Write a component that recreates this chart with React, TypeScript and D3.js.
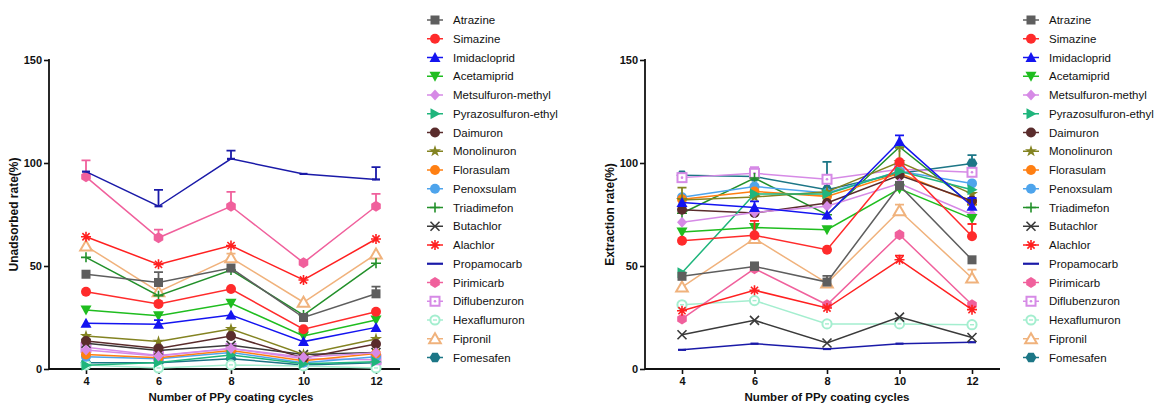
import React, { useEffect, useRef } from "react";
import * as d3 from "d3";

const cycles = [4, 6, 8, 10, 12];
const yTicks = [0, 50, 100, 150];

const names = [
  "Atrazine", "Simazine", "Imidacloprid", "Acetamiprid", "Metsulfuron-methyl",
  "Pyrazosulfuron-ethyl", "Daimuron", "Monolinuron", "Florasulam", "Penoxsulam",
  "Triadimefon", "Butachlor", "Alachlor", "Propamocarb", "Pirimicarb",
  "Diflubenzuron", "Hexaflumuron", "Fipronil", "Fomesafen",
];
const colors = [
  "#5e5e5e", "#ff2b2b", "#1414f0", "#1fbd1f", "#d68ae6",
  "#1fb57c", "#5a2c2c", "#838321", "#ff7f12", "#4ea4ec",
  "#22902a", "#3a3a3a", "#ff2020", "#1a1aa8", "#f0609c",
  "#d68ae6", "#a4eecf", "#f0b27c", "#1c7686",
];
const markers = [
  "square", "circle", "triUp", "triDown", "diamond",
  "triRight", "circle", "star", "circle", "circle",
  "plus", "cross", "asterisk", "none", "hexV",
  "openSquare", "openCircle", "openTri", "hexH",
];

// Unadsorbed rate (%)
const unAtrazine = [46, 42, 49, 25, 36.5];
const unSimazine = [37.5, 31.6, 38.8, 19.3, 27.8];
const unImidacloprid = [22.2, 21.7, 26.2, 13.3, 20.2];
const unAcetamiprid = [28.6, 25.9, 31.9, 16, 23.8];
const unMetsulfuron = [9.2, 6.3, 10, 5.7, 7.9];
const unPyrazosulfuron = [1.8, 3.2, 6.8, 2.5, 3.5];
const unDaimuron = [13.6, 10, 16, 5.3, 12.1];
const unMonolinuron = [16, 13.3, 19.4, 7.1, 14.6];
const unFlorasulam = [7, 5.5, 9, 4, 7.5];
const unPenoxsulam = [6, 5, 8, 3, 6];
const unTriadimefon = [54.2, 35.6, 48, 26.2, 51.3];
const unButachlor = [12.5, 9, 11.5, 7, 8];
const unAlachlor = [64.2, 50.8, 59.9, 43.2, 63.1];
const unPropamocarb = [95.8, 79, 102, 94.7, 92];
const unPirimicarb = [93.3, 63.7, 79, 51.6, 79];
const unDiflubenzuron = [10.5, 6.5, 10, 5, 4.5];
const unHexaflumuron = [2, 0.5, 2, 1.5, 0.5];
const unFipronil = [59.7, 37.5, 54, 32.4, 55.8];
const unFomesafen = [3, 3, 5, 2, 3];

// upper error bars, unadsorbed
const unErrAtrazine = [0, 5, 0, 0, 3.5];
const unErrImidacloprid = [0, 2, 0, 0, 0];
const unErrFipronil = [0, 0, 2, 0, 0];
const unErrPropamocarb = [0, 8, 4, 0, 6];
const unErrPirimicarb = [8, 4, 7, 0, 6];

// Extraction rate (%)
const exAtrazine = [45, 49.8, 42.2, 89.1, 53];
const exSimazine = [62.3, 64.9, 57.9, 100.4, 64.4];
const exImidacloprid = [80.8, 78.4, 74.8, 110.4, 79];
const exAcetamiprid = [66.5, 68.7, 67.6, 87.5, 73];
const exMetsulfuron = [71.2, 76, 79, 90, 75];
const exPyrazosulfuron = [46.7, 85, 85, 96, 87];
const exDaimuron = [77.3, 75.7, 80.6, 94, 81.7];
const exMonolinuron = [82, 83.5, 86, 100.4, 85];
const exFlorasulam = [82.4, 86.2, 83.8, 95, 81];
const exPenoxsulam = [83.4, 88.6, 85.4, 96, 90.1];
const exTriadimefon = [75.6, 92.7, 74.9, 107.8, 79.7];
const exButachlor = [16.6, 23.6, 12.6, 25.2, 15.3];
const exAlachlor = [28.3, 38.2, 29.6, 53, 28.8];
const exPropamocarb = [9.3, 12.3, 9.7, 12.3, 13];
const exPirimicarb = [24.3, 48.7, 31.2, 65.2, 31.2];
const exDiflubenzuron = [92.9, 95, 92.1, 97, 95.5];
const exHexaflumuron = [31.2, 33.2, 21.9, 21.9, 21.5];
const exFipronil = [39.8, 63.3, 41.7, 76.8, 44.2];
const exFomesafen = [94, 93.4, 87, 95, 99.8];

// upper error bars, extraction
const exErrAtrazine = [0, 2, 3, 0, 0];
const exErrSimazine = [0, 7, 0, 0, 6];
const exErrImidacloprid = [0, 3, 0, 3, 4];
const exErrMonolinuron = [6, 0, 0, 7, 0];
const exErrAlachlor = [0, 0, 0, 2, 0];
const exErrDiflubenzuron = [0, 3, 0, 0, 0];
const exErrFipronil = [0, 0, 0, 3, 4];
const exErrFomesafen = [1, 0, 13.5, 0, 4];

const unSeries = [
  unAtrazine, unSimazine, unImidacloprid, unAcetamiprid, unMetsulfuron,
  unPyrazosulfuron, unDaimuron, unMonolinuron, unFlorasulam, unPenoxsulam,
  unTriadimefon, unButachlor, unAlachlor, unPropamocarb, unPirimicarb,
  unDiflubenzuron, unHexaflumuron, unFipronil, unFomesafen,
];
const unErrors = {
  Atrazine: unErrAtrazine, Imidacloprid: unErrImidacloprid, Fipronil: unErrFipronil,
  Propamocarb: unErrPropamocarb, Pirimicarb: unErrPirimicarb,
};
const exSeries = [
  exAtrazine, exSimazine, exImidacloprid, exAcetamiprid, exMetsulfuron,
  exPyrazosulfuron, exDaimuron, exMonolinuron, exFlorasulam, exPenoxsulam,
  exTriadimefon, exButachlor, exAlachlor, exPropamocarb, exPirimicarb,
  exDiflubenzuron, exHexaflumuron, exFipronil, exFomesafen,
];
const exErrors = {
  Atrazine: exErrAtrazine, Simazine: exErrSimazine, Imidacloprid: exErrImidacloprid,
  Monolinuron: exErrMonolinuron, Alachlor: exErrAlachlor, Diflubenzuron: exErrDiflubenzuron,
  Fipronil: exErrFipronil, Fomesafen: exErrFomesafen,
};

const FONT = "Arial, 'Liberation Sans', sans-serif";

// draw one marker symbol centred at 0,0 into g
function drawMarker(g, kind, color) {
  const lineSym = (d) => g.append("path").attr("d", d).attr("stroke", color).attr("stroke-width", 1.6).attr("fill", "none");
  switch (kind) {
    case "square":
      g.append("rect").attr("x", -4.5).attr("y", -4.5).attr("width", 9).attr("height", 9).attr("fill", color);
      break;
    case "circle":
      g.append("circle").attr("r", 5).attr("fill", color);
      break;
    case "triUp":
      g.append("path").attr("d", "M0,-5.5L5.5,4.5L-5.5,4.5Z").attr("fill", color);
      break;
    case "triDown":
      g.append("path").attr("d", "M0,5.5L5.5,-4.5L-5.5,-4.5Z").attr("fill", color);
      break;
    case "triRight":
      g.append("path").attr("d", "M5.5,0L-4.5,5.5L-4.5,-5.5Z").attr("fill", color);
      break;
    case "diamond":
      g.append("path").attr("d", "M0,-5.5L5,0L0,5.5L-5,0Z").attr("fill", color);
      break;
    case "star":
      g.append("path").attr("d", d3.symbol(d3.symbolStar, 45)()).attr("fill", color);
      break;
    case "plus":
      lineSym("M-5,0H5M0,-5V5");
      break;
    case "cross":
      lineSym("M-4.5,-4.5L4.5,4.5M-4.5,4.5L4.5,-4.5");
      break;
    case "asterisk":
      lineSym("M-5,0H5M0,-5V5M-3.6,-3.6L3.6,3.6M-3.6,3.6L3.6,-3.6");
      break;
    case "hexV":
      g.append("path").attr("d", "M0,-5.5L4.8,-2.5L4.8,2.5L0,5.5L-4.8,2.5L-4.8,-2.5Z").attr("fill", color);
      break;
    case "hexH":
      g.append("path").attr("d", "M-5.5,0L-2.7,-4.8L2.7,-4.8L5.5,0L2.7,4.8L-2.7,4.8Z").attr("fill", color);
      break;
    case "openSquare":
      g.append("rect").attr("x", -4.5).attr("y", -4.5).attr("width", 9).attr("height", 9)
        .attr("fill", "white").attr("stroke", color).attr("stroke-width", 2);
      g.append("circle").attr("r", 1.3).attr("fill", color);
      break;
    case "openCircle":
      g.append("circle").attr("r", 4.6).attr("fill", "white").attr("stroke", color).attr("stroke-width", 2);
      g.append("path").attr("d", "M-2,0H2").attr("stroke", color).attr("stroke-width", 1.4);
      break;
    case "openTri":
      g.append("path").attr("d", "M0,-5.5L5.8,4.5L-5.8,4.5Z").attr("fill", "white").attr("stroke", color).attr("stroke-width", 2);
      break;
    default:
      break;
  }
}

function drawPanel(svg, opts) {
  const { x0, xEnd, first, last, series, errors, yLabel, legendX } = opts;
  const x = d3.scaleLinear().domain([4, 12]).range([first, last]);
  const y = d3.scaleLinear().domain([0, 150]).range([369, 60]);

  const g = svg.append("g");

  // y axis
  const yAxis = g.append("g").attr("transform", `translate(${x0},0)`)
    .call(d3.axisLeft(y).tickValues(yTicks).tickSize(5).tickPadding(2));
  yAxis.select(".domain").remove();
  yAxis.append("line").attr("y1", 59).attr("y2", 370).attr("stroke", "#111").attr("stroke-width", 1.8);
  yAxis.selectAll(".tick line").attr("stroke", "#111").attr("stroke-width", 1.6);
  yAxis.selectAll(".tick text").attr("font-family", FONT).attr("font-weight", "bold")
    .attr("font-size", 11).attr("fill", "#111");

  // x axis
  const xAxis = g.append("g").attr("transform", "translate(0,369)")
    .call(d3.axisBottom(x).tickValues(cycles).tickSize(5).tickPadding(3));
  xAxis.select(".domain").remove();
  xAxis.append("line").attr("x1", x0).attr("x2", xEnd).attr("stroke", "#111").attr("stroke-width", 1.8);
  xAxis.selectAll(".tick line").attr("stroke", "#111").attr("stroke-width", 1.6);
  xAxis.selectAll(".tick text").attr("font-family", FONT).attr("font-weight", "bold")
    .attr("font-size", 11).attr("fill", "#111");

  g.append("text").attr("x", x(8)).attr("y", 401).attr("text-anchor", "middle")
    .attr("font-family", FONT).attr("font-weight", "bold").attr("font-size", 11.5).attr("fill", "#111")
    .text("Number of PPy coating cycles");
  g.append("text").attr("transform", `translate(${x0 - 31},${y(75)}) rotate(-90)`)
    .attr("text-anchor", "middle").attr("font-family", FONT).attr("font-weight", "bold")
    .attr("font-size", 12).attr("fill", "#111").text(yLabel);

  const line = d3.line().x((d, i) => x(cycles[i])).y((d) => y(d));

  // first series ends up on top, so draw in reverse
  const order = d3.range(series.length).reverse();
  order.forEach((k) => {
    const vals = series[k];
    const color = colors[k];
    const sg = g.append("g");
    sg.append("path").attr("d", line(vals)).attr("fill", "none").attr("stroke", color).attr("stroke-width", 1.5);
    const err = errors[names[k]];
    if (err) {
      err.forEach((e, i) => {
        if (!e) return;
        const cx = x(cycles[i]);
        sg.append("path")
          .attr("d", `M${cx},${y(vals[i])}V${y(vals[i] + e)}M${cx - 4.5},${y(vals[i] + e)}H${cx + 4.5}`)
          .attr("stroke", color).attr("stroke-width", 1.8).attr("fill", "none");
      });
    }
    vals.forEach((v, i) => {
      const mg = sg.append("g").attr("transform", `translate(${x(cycles[i])},${y(v)})`);
      if (markers[k] === "none") {
        mg.append("path").attr("d", "M-4,0H4").attr("stroke", color).attr("stroke-width", 2.2);
      } else {
        drawMarker(mg, markers[k], color);
      }
    });
  });

  // legend
  const lg = g.append("g").attr("transform", `translate(${legendX},20)`);
  names.forEach((n, k) => {
    const row = lg.append("g").attr("transform", `translate(0,${k * 18.75})`);
    row.append("path").attr("d", "M-8,0H8").attr("stroke", colors[k]).attr("stroke-width", markers[k] === "none" ? 2.2 : 1.5);
    if (markers[k] !== "none") drawMarker(row.append("g"), markers[k], colors[k]);
    row.append("text").attr("x", 18).attr("dy", "0.35em").attr("font-family", FONT)
      .attr("font-size", 11.5).attr("fill", "#111").text(n);
  });
}

export default function App() {
  const ref = useRef(null);

  useEffect(() => {
    const svg = d3.select(ref.current);
    svg.selectAll("*").remove();
    drawPanel(svg, {
      x0: 49, xEnd: 400, first: 86, last: 376,
      series: unSeries, errors: unErrors, yLabel: "Unadsorbed rate(%)", legendX: 435,
    });
    drawPanel(svg, {
      x0: 645, xEnd: 1000, first: 682, last: 972,
      series: exSeries, errors: exErrors, yLabel: "Extraction rate(%)", legendX: 1031,
    });
  }, []);

  return (
    <svg ref={ref} width={1156} height={405}
      style={{ position: "absolute", left: 0, top: 0, background: "white" }} />
  );
}
